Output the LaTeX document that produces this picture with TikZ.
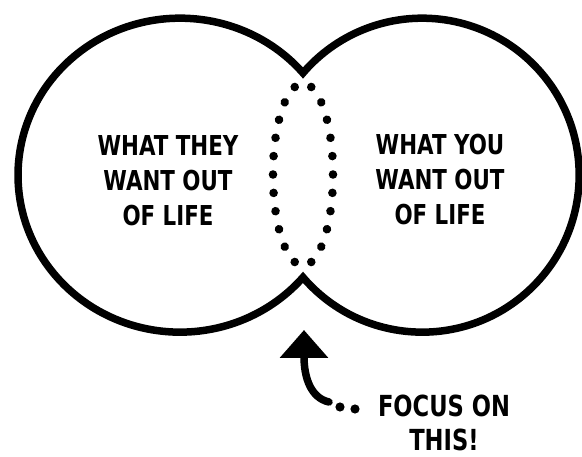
\documentclass[tikz,border=0pt]{standalone}
\usepackage{fontspec}
\newfontfamily\stencilfont[FakeStretch=0.78]{DejaVu Sans}
\usetikzlibrary{positioning, arrows.meta, decorations.markings}

\begin{document}
\begin{tikzpicture}[x=1pt, y=1pt,
        outline/.style={draw, line width=7.5pt, line join=miter},
        lensdots/.style={decorate, decoration={markings, mark=between positions 0.0227 and 1 step 0.04545 with {\fill circle (4.3pt);}}},
        lifetext/.style={align=center, inner sep=0pt, font=\stencilfont\bfseries\fontsize{27.4}{35}\selectfont},
        focustext/.style={align=center, inner sep=0pt, font=\stencilfont\bfseries\fontsize{29}{34}\selectfont},
        focusarrow/.style={line width=7.5pt, line cap=round, -{Triangle[length=28pt, width=47pt]}}
    ]
    \useasboundingbox (0,0) rectangle (582,456);

    % Two overlapping circles (outer outline only)
    \coordinate (topcusp) at (303,383);
    \draw[outline] (topcusp) arc[start angle=40.6, end angle=319.4, x radius=162, y radius=157]
        arc[start angle=220.6, end angle=499.4, radius=157] -- cycle;

    % Dotted overlap
    \coordinate (overlap) at (303,281.5);
    \path[lensdots] ([yshift=91pt]overlap) arc[start angle=90, end angle=450, x radius=30, y radius=91];

    % Circle texts
    \node[lifetext] (they) at (168,275) {WHAT THEY\\WANT OUT\\OF LIFE};
    \node[lifetext] (you) at (440,276) {WHAT YOU\\WANT OUT\\OF LIFE};

    % Pointer
    \node[focustext] (focus) at (444,33) {FOCUS ON\\THIS!};
    \coordinate (tail) at (329,54);
    \coordinate (tip) at (304,126);
    \draw[focusarrow] (tail) .. controls (311,58) and (304,78) .. (tip);
    \fill ([shift={(11,-5)}]tail) circle (4.6pt);
    \fill ([shift={(26,-7)}]tail) circle (4.6pt);

\end{tikzpicture}
\end{document}
